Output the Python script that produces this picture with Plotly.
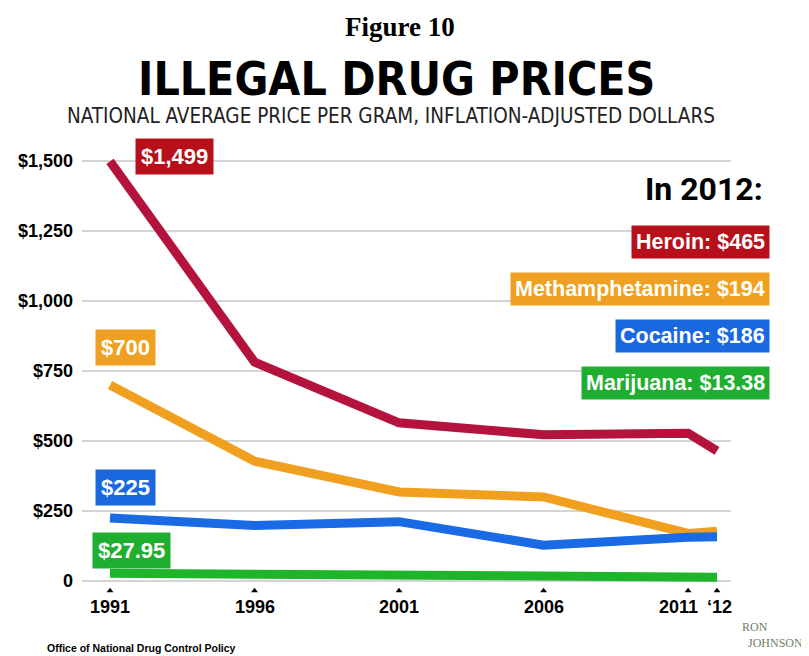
import plotly.graph_objects as go

years = [1991, 1996, 2001, 2006, 2011, 2012]
heroin = [1499, 782, 565, 522, 528, 465]
meth = [700, 428, 318, 300, 170, 178]
cocaine = [225, 198, 212, 128, 156, 158]
marijuana = [27.95, 25, 24, 23, 20, 13.38]

series_names = ["Heroin", "Methamphetamine", "Cocaine", "Marijuana"]
series_values = [heroin, meth, cocaine, marijuana]
line_colors = ["#B3133C", "#F0A01E", "#1A6AE6", "#1EB52A"]
box_colors = ["#B8101A", "#EFA020", "#1A68E0", "#20AE30"]
start_labels = ["$1,499", "$700", "$225", "$27.95"]
end_labels = ["Heroin: $465", "Methamphetamine: $194", "Cocaine: $186", "Marijuana: $13.38"]

ytick_vals = [0, 250, 500, 750, 1000, 1250, 1500]
ytick_text = ["0", "$250", "$500", "$750", "$1,000", "$1,250", "$1,500"]
xtick_text = ["1991", "1996", "2001", "2006", "2011", "\u201812"]

# page has an 8px body margin; lay out in page pixels
OFF = 8
W, H = 809 - OFF, 656 - OFF
P_L, P_R, P_T, P_B = 82, 731, 150, 597   # plot area in page pixels
ML, MR, MT, MB = P_L - OFF, W - (P_R - OFF), P_T - OFF, H - (P_B - OFF)
plot_w = P_R - P_L
plot_h = P_B - P_T


def pxx(x):
    return (x - P_L) / plot_w


def pxy(y):
    return (P_B - y) / plot_h


fig = go.Figure()

# tick triangles under each year
fig.add_trace(go.Scatter(
    x=years, y=[-35] * len(years), mode="markers",
    marker=dict(symbol="triangle-up", size=6, color="black"),
    hoverinfo="skip", showlegend=False))

for name, vals, col in zip(series_names, series_values, line_colors):
    fig.add_trace(go.Scatter(
        x=years, y=vals, mode="lines", name=name,
        line=dict(color=col, width=9), showlegend=False))

annotations = []
start_shift = [(25, 5), (-15, 38), (-15, 31), (-18, 23)]
for vals, txt, bc, (xs, ys) in zip(series_values, start_labels, box_colors, start_shift):
    annotations.append(dict(
        x=years[0], y=vals[0], xref="x", yref="y", text=txt, showarrow=False,
        xanchor="left", yanchor="middle", xshift=xs, yshift=ys,
        font=dict(family="Liberation Sans", size=22, color="white", weight="bold"),
        bgcolor=bc, borderpad=5))

annotations.append(dict(
    x=pxx(765), y=pxy(189), xref="paper", yref="paper", text="In 2012:",
    showarrow=False, xanchor="right", yanchor="middle",
    font=dict(family="Roboto", size=32, color="black", weight="bold")))
for txt, bc, ypx in zip(end_labels, box_colors, [241.5, 289, 336, 382.5]):
    annotations.append(dict(
        x=pxx(770), y=pxy(ypx), xref="paper", yref="paper", text=txt,
        showarrow=False, xanchor="right", yanchor="middle",
        font=dict(family="Liberation Sans", size=21.5, color="white", weight="bold"),
        bgcolor=bc, borderpad=4))

x_shifts = [0, 0, 0, 0, -10, 2]
for yv, t, s in zip(years, xtick_text, x_shifts):
    annotations.append(dict(
        x=yv, y=0, xref="x", yref="paper", text=t, showarrow=False,
        xanchor="center", yanchor="top", xshift=s, yshift=2,
        font=dict(family="Liberation Sans", size=18, color="black", weight="bold")))

annotations += [
    dict(x=pxx(400), y=pxy(27), xref="paper", yref="paper", xanchor="center", yanchor="middle",
         text="Figure 10", showarrow=False,
         font=dict(family="Liberation Serif", size=27, color="black", weight="bold")),
    dict(x=pxx(396), y=pxy(79), xref="paper", yref="paper", xanchor="center", yanchor="middle",
         text="ILLEGAL DRUG PRICES", showarrow=False,
         font=dict(family="DejaVu Sans Condensed, Roboto", size=46, color="black", weight="bold")),
    dict(x=pxx(391), y=pxy(116), xref="paper", yref="paper", xanchor="center", yanchor="middle",
         text="NATIONAL AVERAGE PRICE PER GRAM, INFLATION-ADJUSTED DOLLARS", showarrow=False,
         font=dict(family="DejaVu Sans Condensed, Roboto", size=20.5, color="#222222")),
    dict(x=pxx(45), y=pxy(648), xref="paper", yref="paper", xanchor="left", yanchor="middle",
         text="Office of National Drug Control Policy", showarrow=False,
         font=dict(family="Liberation Sans", size=10.5, color="black", weight="bold")),
    dict(x=pxx(740), y=pxy(635), xref="paper", yref="paper", xanchor="left", yanchor="middle",
         text="RON<br>  JOHNSON", showarrow=False, align="left",
         font=dict(family="Liberation Serif", size=12, color="#6E8060")),
]

fig.update_layout(
    width=W, height=H,
    margin=dict(l=ML, r=MR, t=MT, b=MB, autoexpand=False),
    paper_bgcolor="white", plot_bgcolor="white",
    annotations=annotations,
    xaxis=dict(range=[1991 - 28 / 28.9, 2012 + 14 / 28.9], showgrid=False, zeroline=False,
               showticklabels=False, ticks="", showline=False, fixedrange=True),
    yaxis=dict(range=[-16 / 0.28, 1500 + 11 / 0.28], tickvals=ytick_vals,
               ticktext=ytick_text, showgrid=True, gridcolor="#D4D4D4", gridwidth=2,
               zeroline=False, showline=False, ticks="", ticklabelstandoff=8,
               tickfont=dict(family="Liberation Sans", size=18, color="black", weight="bold")),
)

fig.write_html("out.html")
